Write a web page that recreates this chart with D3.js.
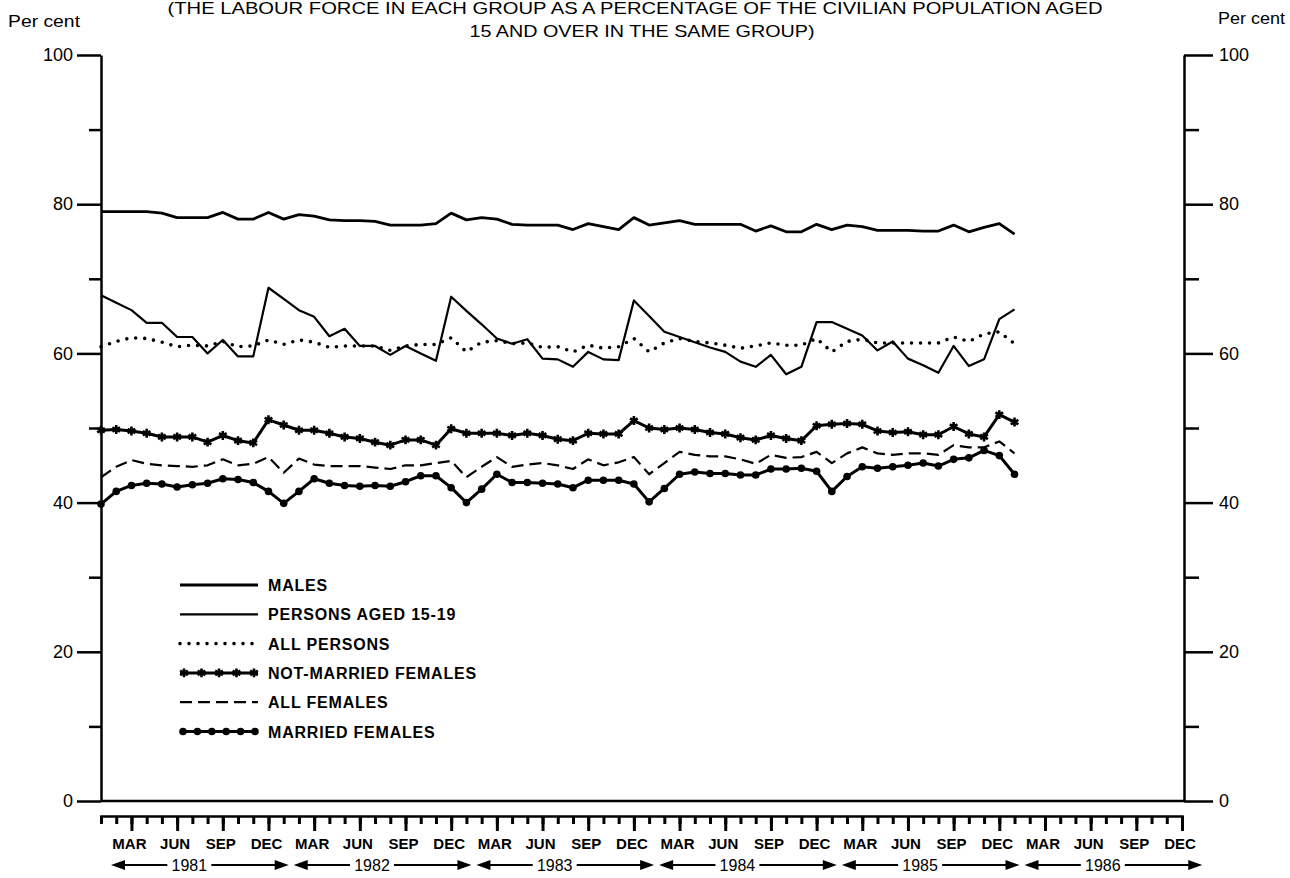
<!DOCTYPE html>
<meta charset="utf-8">
<head>
  <title>Labour force participation rates</title>
</head>

<style>
body {
  margin: 0;
  background: #fff;
}
svg {
  display: block;
  font-family: "Liberation Sans", Arial, sans-serif;
}
.axis path, .axis line {
  stroke: #000;
  stroke-width: 2.5;
}
.axis text {
  font-size: 18px;
  fill: #000;
}
.ruler line {
  stroke-width: 3;
}
.cond {
  font-family: "Liberation Sans Narrow", "Liberation Sans", Arial, sans-serif;
}
</style>

<body>
<svg width=1290 height=878></svg>
<script src="https://cdnjs.cloudflare.com/ajax/libs/d3/7.8.5/d3.min.js"></script>
<script>
// monthly rates, Jan 1981 - Jan 1986 (per cent)
var monthNames = ["JAN","FEB","MAR","APR","MAY","JUN","JUL","AUG","SEP","OCT","NOV","DEC"];
var years = [1981, 1982, 1983, 1984, 1985, 1986];
var yTicks = [0, 20, 40, 60, 80, 100];
var yMinor = [10, 30, 50, 70, 90];

var males = [79.0,79.0,79.0,79.0,78.8,78.2,78.2,78.2,78.9,78.0,78.0,78.9,
  78.0,78.6,78.4,77.9,77.8,77.8,77.7,77.2,77.2,77.2,77.4,78.8,
  77.9,78.2,78.0,77.3,77.2,77.2,77.2,76.6,77.4,77.0,76.6,78.2,
  77.2,77.5,77.8,77.3,77.3,77.3,77.3,76.4,77.1,76.3,76.3,77.3,
  76.6,77.2,77.0,76.5,76.5,76.5,76.4,76.4,77.2,76.3,76.9,77.4,
  76.0];
var teens = [67.8,66.8,65.8,64.1,64.1,62.2,62.2,60.0,61.8,59.6,59.6,68.8,
  67.3,65.8,64.9,62.3,63.3,61.0,61.0,59.8,61.0,60.0,59.0,67.6,
  65.7,63.9,62.0,61.3,61.9,59.3,59.2,58.2,60.2,59.2,59.1,67.1,
  65.0,62.9,62.2,61.5,60.8,60.2,58.9,58.2,59.8,57.2,58.2,64.2,
  64.2,63.3,62.4,60.4,61.6,59.3,58.4,57.4,61.0,58.3,59.2,64.6,
  65.9];
var allPersons = [60.9,61.6,62.1,62.0,61.5,60.9,61.1,61.0,61.6,60.9,61.0,61.8,
  61.2,61.8,61.5,60.8,61.0,61.0,61.0,60.4,61.0,61.2,61.2,62.1,
  60.2,61.5,61.7,61.3,61.4,60.8,60.9,60.2,61.1,60.7,60.9,62.0,
  60.2,61.4,62.0,61.6,61.4,61.1,60.7,61.0,61.4,61.1,61.1,62.0,
  60.2,61.6,61.9,61.4,61.4,61.4,61.4,61.4,62.2,61.6,62.6,62.9,
  61.3];
var notMarried = [49.7,49.8,49.6,49.3,48.8,48.8,48.8,48.1,49.0,48.3,48.0,51.1,
  50.4,49.7,49.7,49.3,48.8,48.6,48.1,47.7,48.4,48.4,47.7,49.9,
  49.3,49.3,49.3,49.0,49.3,49.0,48.5,48.3,49.3,49.2,49.2,51.0,
  50.0,49.8,50.0,49.8,49.4,49.2,48.7,48.4,49.0,48.6,48.3,50.3,
  50.5,50.6,50.5,49.6,49.4,49.5,49.1,49.1,50.2,49.2,48.8,51.8,
  50.8];
var allFemales = [43.4,44.8,45.7,45.2,45.0,44.9,44.8,45.0,45.8,45.0,45.2,46.1,
  44.0,45.9,45.1,44.9,44.9,44.9,44.7,44.5,45.0,45.0,45.3,45.6,
  43.4,44.8,46.1,44.8,45.1,45.3,45.0,44.5,45.8,45.0,45.4,46.1,
  43.8,45.3,46.8,46.4,46.2,46.2,45.8,45.2,46.4,46.0,46.1,46.8,
  45.3,46.6,47.4,46.6,46.4,46.6,46.6,46.4,47.7,47.4,47.4,48.2,
  46.6];
var married = [39.8,41.5,42.3,42.6,42.5,42.1,42.4,42.6,43.2,43.1,42.7,41.5,
  39.9,41.5,43.2,42.6,42.3,42.2,42.3,42.2,42.8,43.6,43.6,42.0,
  40.0,41.8,43.8,42.7,42.7,42.6,42.5,42.0,43.0,43.0,43.0,42.5,
  40.1,41.9,43.8,44.1,43.9,43.9,43.7,43.7,44.5,44.5,44.6,44.2,
  41.5,43.5,44.8,44.6,44.8,45.0,45.3,44.9,45.8,46.0,47.0,46.3,
  43.8];
var seriesNames = ["MALES", "PERSONS AGED 15-19", "ALL PERSONS",
  "NOT-MARRIED FEMALES", "ALL FEMALES", "MARRIED FEMALES"];

var series = [
  {name: seriesNames[0], values: males, width: 2.8},
  {name: seriesNames[1], values: teens, width: 2.2},
  {name: seriesNames[2], values: allPersons, width: 3.6, dash: "0 9"},
  {name: seriesNames[3], values: notMarried, width: 3, marker: "star"},
  {name: seriesNames[4], values: allFemales, width: 2.2, dash: "12 6"},
  {name: seriesNames[5], values: married, width: 3, marker: "dot"}
];

var svg = d3.select('svg');
var x = d3.scaleLinear().domain([0, 71]).range([101, 1182]);
var y = d3.scaleLinear().domain([0, 100]).range([801, 55]);

// title
svg.append('text').attr('class', 'cond')
  .attr('x', 635).attr('y', 14).attr('text-anchor', 'middle')
  .attr('font-size', 16.5).attr('textLength', 935).attr('lengthAdjust', 'spacingAndGlyphs')
  .text('(THE LABOUR FORCE IN EACH GROUP AS A PERCENTAGE OF THE CIVILIAN POPULATION AGED');
svg.append('text').attr('class', 'cond')
  .attr('x', 642).attr('y', 37).attr('text-anchor', 'middle')
  .attr('font-size', 17).attr('textLength', 345).attr('lengthAdjust', 'spacingAndGlyphs')
  .text('15 AND OVER IN THE SAME GROUP)');

svg.append('text').attr('class', 'cond').attr('x', 8).attr('y', 27)
  .attr('font-size', 17).attr('textLength', 72).attr('lengthAdjust', 'spacingAndGlyphs')
  .text('Per cent');
svg.append('text').attr('class', 'cond').attr('x', 1218).attr('y', 24)
  .attr('font-size', 17).attr('textLength', 67).attr('lengthAdjust', 'spacingAndGlyphs')
  .text('Per cent');

// left axis
svg.append('g').attr('class', 'axis').attr('transform', 'translate(101,0)')
  .call(d3.axisLeft(y).tickValues(yTicks).tickSize(24).tickPadding(4).tickSizeOuter(0));
svg.append('g').attr('class', 'axis').attr('transform', 'translate(101,0)')
  .call(d3.axisLeft(y).tickValues(yMinor).tickSize(12).tickFormat(''))
  .select('.domain').remove();

// right axis
svg.append('g').attr('class', 'axis').attr('transform', 'translate(1184,0)')
  .call(d3.axisRight(y).tickValues(yTicks).tickSize(29).tickPadding(6).tickSizeOuter(0));
svg.append('g').attr('class', 'axis').attr('transform', 'translate(1184,0)')
  .call(d3.axisRight(y).tickValues(yMinor).tickSize(15).tickFormat(''))
  .select('.domain').remove();

// baseline
svg.append('line').attr('x1', 101).attr('x2', 1184)
  .attr('y1', y(0)).attr('y2', y(0))
  .attr('stroke', '#000').attr('stroke-width', 2.5);

// month ruler below the chart
var months = d3.range(72);
var quarters = months.filter(function(i){ return i % 3 == 2; });
svg.append('g').attr('class', 'axis ruler').attr('transform', 'translate(0,816)')
  .call(d3.axisBottom(x).tickValues(months).tickSize(8).tickSizeOuter(8).tickFormat(''));
svg.append('g').attr('class', 'axis ruler').attr('transform', 'translate(0,816)')
  .call(d3.axisBottom(x).tickValues(quarters).tickSize(15).tickFormat(''))
  .select('.domain').remove();
svg.selectAll('.ruler .domain').attr('stroke-width', 3.5);

svg.append('g').selectAll('text')
  .data(quarters)
  .enter()
  .append('text')
  .attr('x', function(d){ return x(d) - 2; })
  .attr('y', 849)
  .attr('text-anchor', 'middle')
  .attr('font-size', 15)
  .attr('font-weight', 'bold')
  .text(function(d){ return monthNames[d % 12]; });

// year spans with arrows
var yr = svg.append('g').selectAll('g')
  .data(years)
  .enter()
  .append('g');
var arrowY = 865;
yr.each(function(d, k) {
  var g = d3.select(this);
  var left = x(12 * k) + 10, right = x(12 * k + 12) + 5;
  var mid = x(12 * k + 5.8);
  g.append('line').attr('x1', left + 8).attr('x2', mid - 22)
    .attr('y1', arrowY).attr('y2', arrowY).attr('stroke', '#000').attr('stroke-width', 2);
  g.append('line').attr('x1', mid + 22).attr('x2', right - 8)
    .attr('y1', arrowY).attr('y2', arrowY).attr('stroke', '#000').attr('stroke-width', 2);
  g.append('path').attr('d', 'M' + left + ',' + arrowY + 'l14,-5v10z').attr('fill', '#000');
  g.append('path').attr('d', 'M' + right + ',' + arrowY + 'l-14,-5v10z').attr('fill', '#000');
  g.append('text').attr('x', mid).attr('y', 871).attr('text-anchor', 'middle')
    .attr('font-size', 16).text(d);
});

// series lines
var line = d3.line()
  .x(function(d, i){ return x(i); })
  .y(function(d){ return y(d); });

var star = d3.symbol().type(d3.symbolAsterisk).size(55);

series.forEach(function(s) {
  svg.append('path')
    .datum(s.values)
    .attr('d', line)
    .attr('fill', 'none')
    .attr('stroke', '#000')
    .attr('stroke-width', s.width)
    .attr('stroke-linejoin', 'round')
    .attr('stroke-linecap', s.dash == "0 9" ? 'round' : 'butt')
    .attr('stroke-dasharray', s.dash || null);
  if (s.marker == "dot") {
    svg.append('g').selectAll('circle')
      .data(s.values)
      .enter()
      .append('circle')
      .attr('cx', function(d, i){ return x(i); })
      .attr('cy', function(d){ return y(d); })
      .attr('r', 3.8)
      .attr('fill', '#000');
  }
  if (s.marker == "star") {
    svg.append('g').selectAll('path')
      .data(s.values)
      .enter()
      .append('path')
      .attr('transform', function(d, i){ return 'translate(' + x(i) + ',' + y(d) + ')'; })
      .attr('d', star)
      .attr('fill', 'none')
      .attr('stroke', '#000')
      .attr('stroke-width', 2.6);
  }
});

// legend
var legend = svg.append('g').selectAll('g')
  .data(series)
  .enter()
  .append('g')
  .attr('transform', function(d, i){ return 'translate(0,' + (585 + i * 29.3) + ')'; });

legend.append('path')
  .attr('d', 'M180,0H258')
  .attr('fill', 'none')
  .attr('stroke', '#000')
  .attr('stroke-width', function(d){ return d.width; })
  .attr('stroke-linecap', function(d){ return d.dash == "0 9" ? 'round' : 'butt'; })
  .attr('stroke-dasharray', function(d){ return d.dash || null; });

legend.each(function(d) {
  var g = d3.select(this);
  var pts = d3.range(183, 259, 14.4);
  if (d.marker == "dot") {
    g.selectAll('circle').data(pts).enter().append('circle')
      .attr('cx', function(p){ return p; }).attr('cy', 0).attr('r', 3.8).attr('fill', '#000');
  }
  if (d.marker == "star") {
    g.selectAll('.st').data(d3.range(184, 259, 17.5)).enter().append('path')
      .attr('transform', function(p){ return 'translate(' + p + ',0)'; })
      .attr('d', star).attr('fill', 'none').attr('stroke', '#000').attr('stroke-width', 2.6);
  }
});

legend.append('text')
  .attr('x', 268)
  .attr('y', 6)
  .attr('font-size', 16)
  .attr('font-weight', 'bold')
  .attr('letter-spacing', 0.8)
  .text(function(d){ return d.name; });
</script>
</body>
</html>
